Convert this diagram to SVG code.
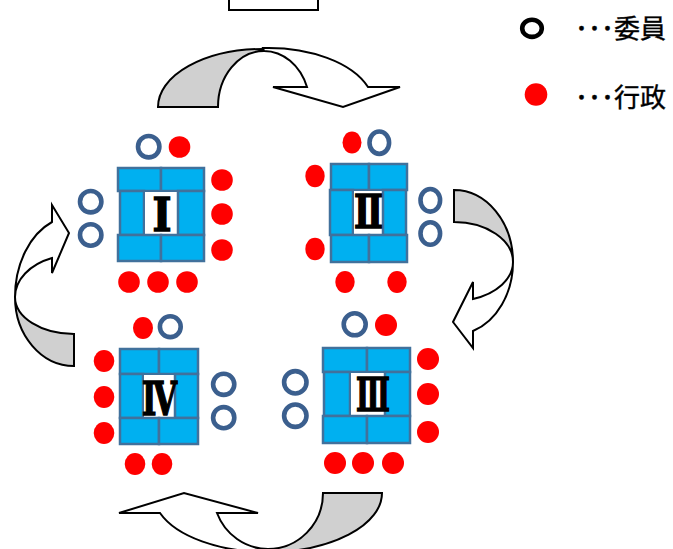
<svg xmlns="http://www.w3.org/2000/svg" width="673" height="549" viewBox="0 0 673 549">
<style>
.cell{fill:#00B0F0;stroke:#41719C;stroke-width:2.5}
.mid{fill:#FFFFFF;stroke:none}
.ring{fill:none;stroke:#3B5F8E;stroke-width:4.6}
.red{fill:#FF0000}
.num{font-family:"DejaVu Serif","Liberation Serif",serif;font-weight:bold;font-size:46px;fill:#000;stroke:#000;stroke-width:1.6}
.arw{stroke:#000;stroke-width:2;stroke-linejoin:miter}
.grey{fill:#D0D0D0}
.white{fill:#FFFFFF}
.leg{font-family:"Noto Sans CJK JP","Noto Sans",sans-serif;font-size:26px;fill:#000;stroke:#000;stroke-width:0.4}
</style>
<rect width="673" height="549" fill="#FFFFFF"/>
<g id="top-box"><rect x="229" y="-10" width="89" height="20" fill="#FFFFFF" stroke="#000" stroke-width="2"/></g>
<g id="legend">
<ellipse cx="532" cy="28.3" rx="9.8" ry="8.6" fill="none" stroke="#000" stroke-width="4.6"/>
<text class="leg" x="575" y="38">･･･委員</text>
<circle class="red" cx="536" cy="94.5" r="11.3"/>
<text class="leg" x="575" y="107">･･･行政</text>
</g>
<g id="connectors">
<g id="arrow-top">
<path class="arw grey" d="M158,107 A105,58 0 0 1 263,49 L264,51 A46,56 0 0 0 218,107 Z"/>
<path class="arw white" d="M263,48 A106,59 0 0 1 368,87 L400,87 L343,107 L273,87 L307,87 A46,56 0 0 0 264,51 Z"/>
</g>
<g id="arrow-right">
<path class="arw grey" d="M454,190 A59,72 0 0 1 513,262 A59,40 0 0 0 454,222 Z"/>
<path class="arw white" d="M513,262 A59,73 0 0 1 473,331 L473,348 L453,322 L473,282 L473,299 A59,39 0 0 0 513,262 Z"/>
</g>
<g id="arrow-bottom">
<path class="arw grey" d="M382,493 A114,59 0 0 1 268,552 L268,549 A55,56 0 0 0 323,493 Z"/>
<path class="arw white" d="M268,552 A114,59 0 0 1 160,513 L119,513 L184,493 L258,513 L217,513 A55,56 0 0 0 268,549 Z"/>
</g>
<g id="arrow-left">
<path class="arw grey" d="M74,366 A59,69 0 0 1 15,297 A59,37 0 0 0 74,334 Z"/>
<path class="arw white" d="M15,297 A59,81 0 0 1 52,222 L52,205 L69,233 L52,273 L52,258 A59,42 0 0 0 15,297 Z"/>
</g>
</g>
<g id="table-1">
<rect class="cell" x="118" y="168" width="43" height="23"/>
<rect class="cell" x="161" y="168" width="43" height="23"/>
<rect class="cell" x="120" y="191" width="24" height="44"/>
<rect class="mid" x="145" y="192" width="32" height="42"/>
<rect class="cell" x="178" y="191" width="26" height="44"/>
<rect class="cell" x="118" y="235" width="43" height="26"/>
<rect class="cell" x="161" y="235" width="43" height="26"/>
<text class="num" x="162" y="231" text-anchor="middle" textLength="19" lengthAdjust="spacingAndGlyphs">Ⅰ</text>
<circle class="ring" cx="148.7" cy="146.7" r="10.7"/>
<circle class="red" cx="179.5" cy="147" r="10.8"/>
<circle class="ring" cx="90.7" cy="201.7" r="10.7"/>
<circle class="ring" cx="90.7" cy="235" r="10.7"/>
<circle class="red" cx="222" cy="180" r="10.8"/>
<circle class="red" cx="222" cy="214" r="10.8"/>
<circle class="red" cx="222" cy="250" r="10.8"/>
<circle class="red" cx="129" cy="282" r="10.8"/>
<circle class="red" cx="158" cy="282" r="10.8"/>
<circle class="red" cx="187" cy="282" r="10.8"/>
</g>
<g id="table-2">
<rect class="cell" x="331" y="164" width="38" height="26"/>
<rect class="cell" x="369" y="164" width="38" height="26"/>
<rect class="cell" x="330" y="190" width="23" height="45"/>
<rect class="mid" x="354" y="191" width="28" height="43"/>
<rect class="cell" x="383" y="190" width="23" height="45"/>
<rect class="cell" x="331" y="235" width="38" height="27"/>
<rect class="cell" x="369" y="235" width="38" height="27"/>
<text class="num" x="368.5" y="228" text-anchor="middle" textLength="29" lengthAdjust="spacingAndGlyphs">Ⅱ</text>
<ellipse class="red" cx="352" cy="142.5" rx="9.5" ry="11"/>
<ellipse class="ring" cx="379.3" cy="142.7" rx="9.8" ry="11.2"/>
<ellipse class="red" cx="315" cy="176" rx="9.7" ry="11.3"/>
<ellipse class="red" cx="315" cy="249" rx="9.7" ry="11.3"/>
<ellipse class="ring" cx="430.3" cy="200.3" rx="9.8" ry="11.3"/>
<ellipse class="ring" cx="430.3" cy="233.5" rx="9.8" ry="11.3"/>
<ellipse class="red" cx="345" cy="282" rx="9.7" ry="11"/>
<ellipse class="red" cx="397" cy="282" rx="9.7" ry="11"/>
</g>
<g id="table-3">
<rect class="cell" x="323" y="348" width="44" height="24"/>
<rect class="cell" x="367" y="348" width="43" height="24"/>
<rect class="cell" x="324" y="372" width="26" height="44"/>
<rect class="mid" x="351" y="373" width="33" height="42"/>
<rect class="cell" x="385" y="372" width="25" height="44"/>
<rect class="cell" x="323" y="416" width="44" height="27"/>
<rect class="cell" x="367" y="416" width="43" height="27"/>
<text class="num" x="373" y="411" text-anchor="middle" textLength="34" lengthAdjust="spacingAndGlyphs">Ⅲ</text>
<circle class="ring" cx="354.7" cy="324.3" r="11"/>
<circle class="red" cx="386" cy="325" r="11"/>
<circle class="ring" cx="295.3" cy="382.3" r="11.2"/>
<circle class="ring" cx="295.3" cy="415.7" r="11.2"/>
<circle class="red" cx="428" cy="359" r="11"/>
<circle class="red" cx="428" cy="394" r="11"/>
<circle class="red" cx="428" cy="432" r="11"/>
<circle class="red" cx="335" cy="463" r="11"/>
<circle class="red" cx="363" cy="463" r="11"/>
<circle class="red" cx="393" cy="463" r="11"/>
</g>
<g id="table-4">
<rect class="cell" x="120" y="349" width="39" height="25"/>
<rect class="cell" x="159" y="349" width="39" height="25"/>
<rect class="cell" x="120" y="374" width="23" height="44"/>
<rect class="mid" x="144" y="375" width="30" height="42"/>
<rect class="cell" x="175" y="374" width="23" height="44"/>
<rect class="cell" x="120" y="418" width="39" height="26"/>
<rect class="cell" x="159" y="418" width="39" height="26"/>
<text class="num" x="159.5" y="415" text-anchor="middle" textLength="35" lengthAdjust="spacingAndGlyphs">Ⅳ</text>
<ellipse class="red" cx="143" cy="328" rx="10" ry="11"/>
<circle class="ring" cx="170.3" cy="326.7" r="10.4"/>
<ellipse class="red" cx="104" cy="361" rx="10.3" ry="11"/>
<ellipse class="red" cx="104" cy="397" rx="10.3" ry="11"/>
<ellipse class="red" cx="104" cy="433" rx="10.3" ry="11"/>
<circle class="ring" cx="223.7" cy="384.3" r="10.6"/>
<circle class="ring" cx="223.7" cy="417.7" r="10.6"/>
<ellipse class="red" cx="135" cy="464" rx="10.3" ry="11"/>
<ellipse class="red" cx="162" cy="464" rx="10.3" ry="11"/>
</g>
</svg>
